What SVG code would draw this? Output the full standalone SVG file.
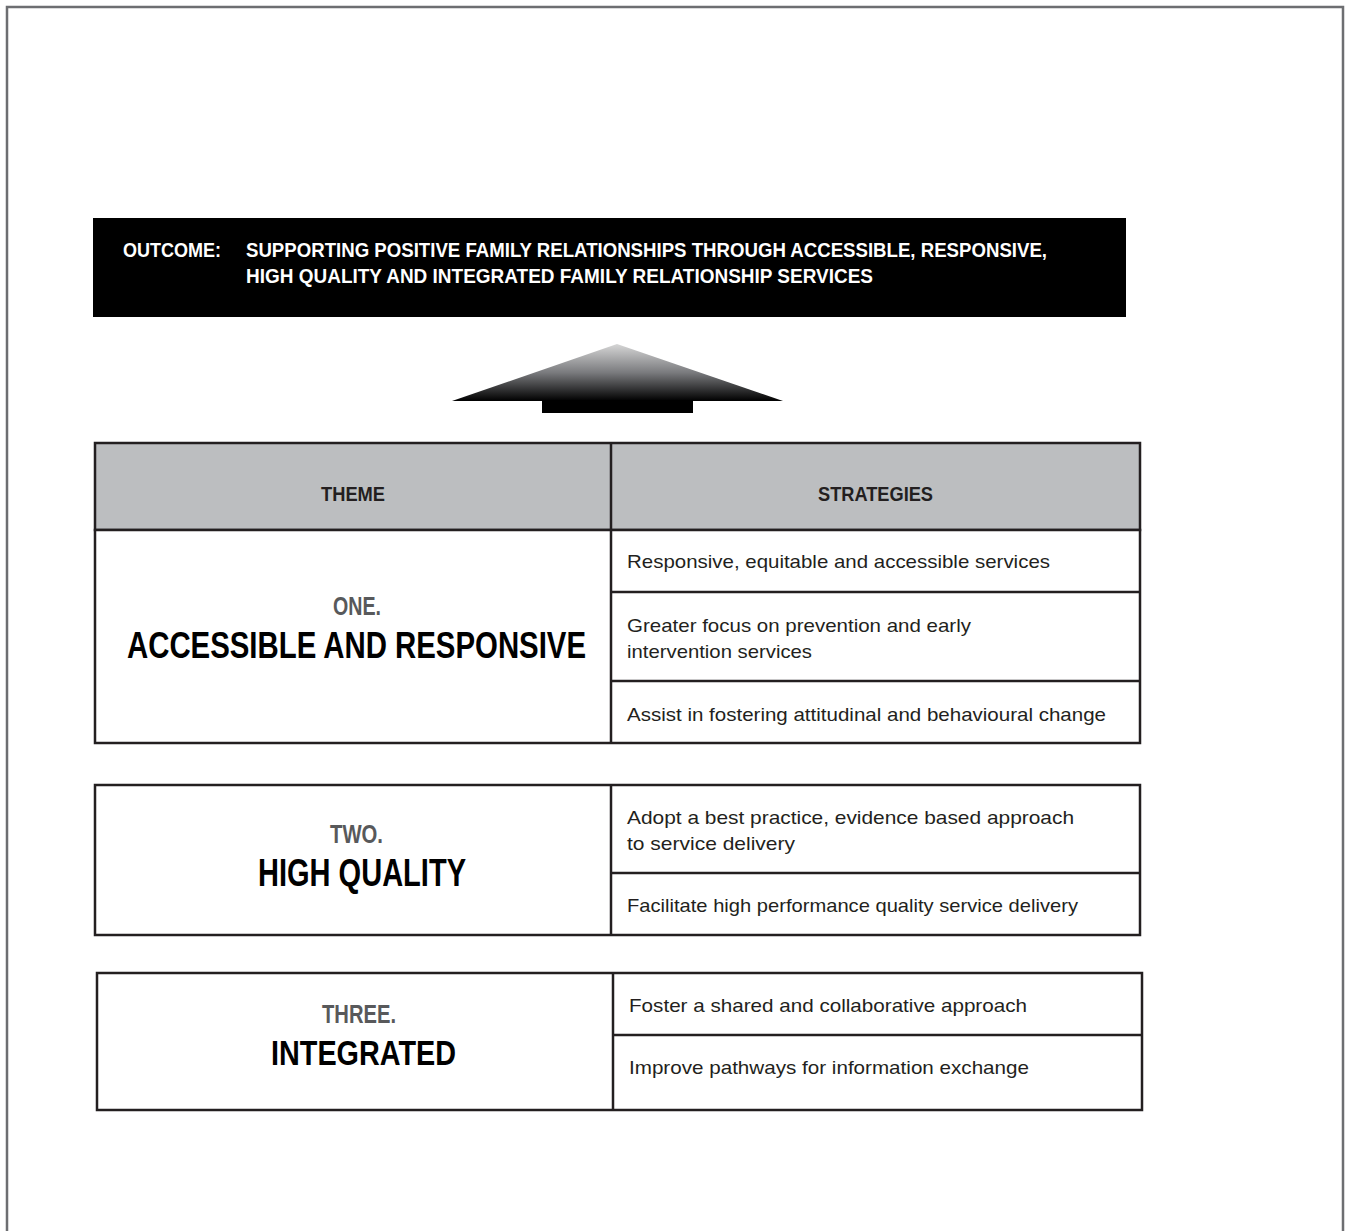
<svg xmlns="http://www.w3.org/2000/svg" width="1352" height="1231" viewBox="0 0 1352 1231">
<style>
.frame{fill:none;stroke:#6d6e71;stroke-width:2.5}
.cell{fill:#fff;stroke:#231f20;stroke-width:2.5}
.hdr{fill:#bcbec0;stroke:#231f20;stroke-width:2.5}
.ln{stroke:#231f20;stroke-width:2.5;fill:none}
.cond{font-family:"Liberation Sans",Arial,sans-serif;font-weight:bold}
.out{fill:#fff;font-size:21px}
.th{fill:#231f20;font-size:21px}
.num{fill:#58595b;font-size:25.5px}
.big{fill:#000;font-size:37px}
.st{font-family:"Liberation Sans",Arial,sans-serif;font-size:19px;fill:#231f20}
</style>
<defs>
<linearGradient id="ag" x1="0" y1="0" x2="0" y2="1">
<stop offset="0" stop-color="#d6d6d6"/>
<stop offset="0.5" stop-color="#7a7b7e"/>
<stop offset="1" stop-color="#000"/>
</linearGradient>
</defs>
<rect width="1352" height="1231" fill="#fff"/>
<path class="frame" d="M7 1231 V7 H1343 V1231"/>

<g id="outcome">
<rect x="93" y="218" width="1033" height="99" fill="#000"/>
<text class="cond out" x="123" y="257" textLength="98" lengthAdjust="spacingAndGlyphs">OUTCOME:</text>
<text class="cond out" x="246" y="257" textLength="801" lengthAdjust="spacingAndGlyphs">SUPPORTING POSITIVE FAMILY RELATIONSHIPS THROUGH ACCESSIBLE, RESPONSIVE,</text>
<text class="cond out" x="246" y="283" textLength="627" lengthAdjust="spacingAndGlyphs">HIGH QUALITY AND INTEGRATED FAMILY RELATIONSHIP SERVICES</text>
</g>

<g id="connectors">
<polygon points="617,344 783,401 452,401" fill="url(#ag)"/>
<rect x="542" y="400" width="151" height="13" fill="#000"/>
</g>

<g id="theme-one">
<rect class="hdr" x="95" y="443" width="1045" height="87"/>
<rect class="cell" x="95" y="530" width="1045" height="213"/>
<line class="ln" x1="611" y1="443" x2="611" y2="743"/>
<line class="ln" x1="611" y1="592" x2="1140" y2="592"/>
<line class="ln" x1="611" y1="681" x2="1140" y2="681"/>
<text class="cond th" x="321" y="501" textLength="64" lengthAdjust="spacingAndGlyphs">THEME</text>
<text class="cond th" x="818" y="501" textLength="115" lengthAdjust="spacingAndGlyphs">STRATEGIES</text>
<text class="cond num" x="333" y="615" textLength="48" lengthAdjust="spacingAndGlyphs">ONE.</text>
<text class="cond big" x="127" y="658" textLength="459" lengthAdjust="spacingAndGlyphs">ACCESSIBLE AND RESPONSIVE</text>
<text class="st" x="627" y="568" textLength="423" lengthAdjust="spacingAndGlyphs">Responsive, equitable and accessible services</text>
<text class="st" x="627" y="632" textLength="344" lengthAdjust="spacingAndGlyphs">Greater focus on prevention and early</text>
<text class="st" x="627" y="658" textLength="185" lengthAdjust="spacingAndGlyphs">intervention services</text>
<text class="st" x="627" y="721" textLength="479" lengthAdjust="spacingAndGlyphs">Assist in fostering attitudinal and behavioural change</text>
</g>

<g id="theme-two">
<rect class="cell" x="95" y="785" width="1045" height="150"/>
<line class="ln" x1="611" y1="785" x2="611" y2="935"/>
<line class="ln" x1="611" y1="873" x2="1140" y2="873"/>
<text class="cond num" x="330" y="843" textLength="53" lengthAdjust="spacingAndGlyphs">TWO.</text>
<text class="cond big" x="258" y="886" textLength="208" lengthAdjust="spacingAndGlyphs" style="font-size:38px">HIGH QUALITY</text>
<text class="st" x="627" y="824" textLength="447" lengthAdjust="spacingAndGlyphs">Adopt a best practice, evidence based approach</text>
<text class="st" x="627" y="850" textLength="168" lengthAdjust="spacingAndGlyphs">to service delivery</text>
<text class="st" x="627" y="912" textLength="451" lengthAdjust="spacingAndGlyphs">Facilitate high performance quality service delivery</text>
</g>

<g id="theme-three">
<rect class="cell" x="97" y="973" width="1045" height="137"/>
<line class="ln" x1="613" y1="973" x2="613" y2="1110"/>
<line class="ln" x1="613" y1="1035" x2="1142" y2="1035"/>
<text class="cond num" x="322" y="1023" textLength="74" lengthAdjust="spacingAndGlyphs">THREE.</text>
<text class="cond big" x="271" y="1065" textLength="185" lengthAdjust="spacingAndGlyphs" style="font-size:35px">INTEGRATED</text>
<text class="st" x="629" y="1012" textLength="398" lengthAdjust="spacingAndGlyphs">Foster a shared and collaborative approach</text>
<text class="st" x="629" y="1074" textLength="400" lengthAdjust="spacingAndGlyphs">Improve pathways for information exchange</text>
</g>
</svg>
